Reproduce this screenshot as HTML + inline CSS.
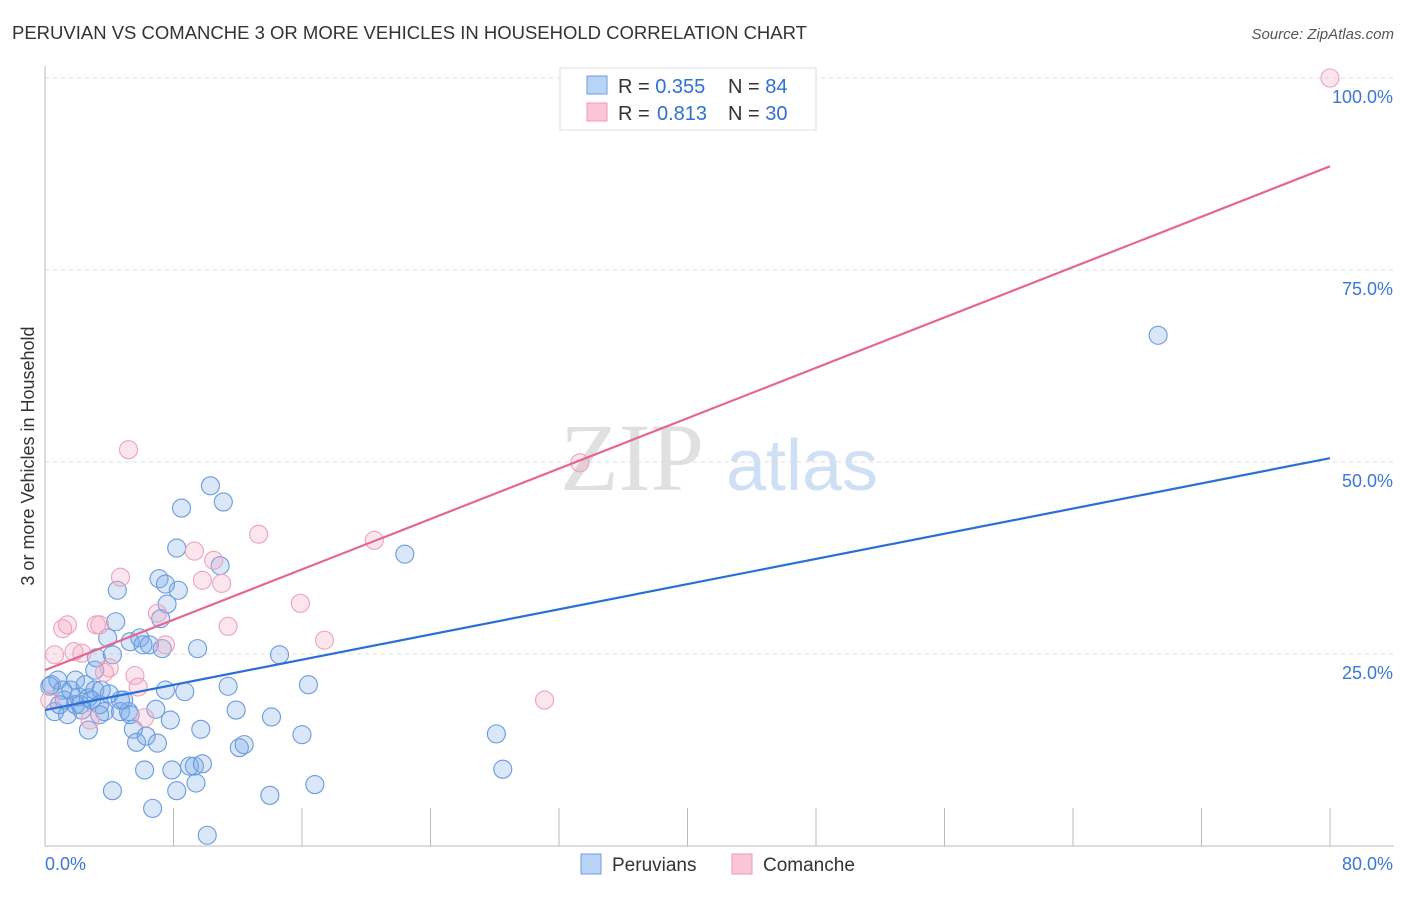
<!DOCTYPE html>
<html><head><meta charset="utf-8"><style>
body{margin:0;background:#fff;font-family:"Liberation Sans",sans-serif}
</style></head><body>
<svg id="chart" width="1406" height="892" xmlns="http://www.w3.org/2000/svg" font-family="Liberation Sans, sans-serif">
<text x="12" y="39" font-size="18.5" fill="#333">PERUVIAN VS COMANCHE 3 OR MORE VEHICLES IN HOUSEHOLD CORRELATION CHART</text>
<text x="1394" y="39" font-size="15" fill="#555" text-anchor="end" font-style="italic">Source: ZipAtlas.com</text>
<g>
<text x="632" y="490" font-size="96" font-family="Liberation Serif, serif" fill="#e0e0e0" text-anchor="middle">ZIP</text>
<text x="802" y="490" font-size="72" fill="#d0e0f4" text-anchor="middle">atlas</text>
</g>
<g id="grid"></g>
<g id="axes"></g>
<g id="points"></g>
<g id="lines"></g>
<text transform="translate(34,456) rotate(-90)" font-size="18" fill="#333" text-anchor="middle">3 or more Vehicles in Household</text>
<g>
<rect x="560" y="68" width="256" height="62" fill="#fff" stroke="#ddd"/>
<rect x="587" y="76" width="20" height="18" fill="#b9d3f4" stroke="#6d9de0"/>
<rect x="587" y="103" width="20" height="18" fill="#fac6d6" stroke="#ec9ab5"/>
<text x="618" y="93" font-size="20" fill="#333">R = <tspan fill="#2f6fd6">0.355</tspan><tspan x="728">N = </tspan><tspan fill="#2f6fd6">84</tspan></text>
<text x="618" y="120" font-size="20" fill="#333">R = <tspan x="657" fill="#2f6fd6">0.813</tspan><tspan x="728">N = </tspan><tspan fill="#2f6fd6">30</tspan></text>
</g>
<g>
<rect x="581" y="854" width="20" height="20" fill="#b9d3f4" stroke="#6d9de0"/>
<text x="612" y="871" font-size="19" fill="#333">Peruvians</text>
<rect x="732" y="854" width="20" height="20" fill="#fac6d6" stroke="#ec9ab5"/>
<text x="763" y="871" font-size="19" fill="#333">Comanche</text>
</g>
</svg>
<script>
const xTicks=[0,8,16,24,32,40,48,56,64,72,80];
const yTicks=[25,50,75,100];
const yTickLabels=["25.0%","50.0%","75.0%","100.0%"];
const xEndLabels=["0.0%","80.0%"];
const blueX=[0.6,0.4,0.8,1.1,1.2,1.6,1.9,2.1,2.2,2.5,2.7,2.9,3.1,3.4,3.7,4.0,2.7,3.1,3.2,3.5,3.9,4.2,4.4,4.5,4.7,4.9,5.2,5.3,5.5,5.7,5.9,6.1,6.3,6.5,6.9,7.0,7.1,7.2,7.3,7.5,7.6,7.8,7.9,8.2,8.3,8.5,8.7,9.0,9.3,9.4,9.5,9.7,9.8,10.1,10.3,10.9,11.1,11.4,11.9,12.1,12.4,14.0,14.1,14.6,16.0,16.4,16.8,22.4,28.1,28.5,69.3,4.2,6.7,6.2,8.2,7.5,1.4,0.9,1.9,2.3,3.4,5.3,0.3,4.7];
const blueY=[17.5,21.0,21.6,20.3,19.0,20.3,21.6,19.4,18.4,21.0,19.3,19.0,20.3,18.4,17.5,19.8,15.1,22.9,24.5,20.3,27.1,24.9,29.2,33.3,17.5,19.0,17.5,26.6,15.2,13.5,27.1,26.2,14.3,26.2,17.8,13.4,34.8,29.6,25.7,20.3,31.5,16.4,9.9,38.8,33.3,44.0,20.1,10.4,10.4,8.2,25.7,15.2,10.7,1.4,46.9,36.5,44.8,20.8,17.7,12.8,13.2,6.6,16.8,24.9,14.5,21.0,8.0,38.0,14.6,10.0,66.5,7.2,4.9,9.9,7.2,34.1,17.1,18.4,18.4,17.7,17.1,17.1,20.8,19.0];
const pinkX=[80.0,5.2,33.3,13.3,20.5,9.3,10.5,4.7,9.8,11.0,7.0,15.9,1.4,1.1,3.2,3.4,11.4,17.4,7.5,0.6,1.8,2.3,3.7,5.6,5.8,31.1,2.8,6.2,0.3,4.0];
const pinkY=[100,51.6,49.9,40.6,39.8,38.4,37.2,35.0,34.6,34.2,30.3,31.6,28.8,28.3,28.8,28.8,28.6,26.8,26.2,24.9,25.3,25.1,22.6,22.2,20.7,19.0,16.4,16.7,19.0,23.2];
const blueTrend=[17.7,50.5];
const pinkTrend=[22.9,88.5];
const NS="http://www.w3.org/2000/svg";
const X0=45,X1=1330,Y0=846,Y100=78;
function sx(v){return X0+(v-0)/80*(X1-X0);}
function sy(v){return Y0-(v/100)*(Y0-Y100);}
function mk(tag,attrs,parent){const e=document.createElementNS(NS,tag);for(const k in attrs)e.setAttribute(k,attrs[k]);document.getElementById(parent).appendChild(e);return e;}
yTicks.forEach((t,i)=>{
 const g=mk('line',{x1:X0,x2:1394,y1:sy(t),y2:sy(t),stroke:'#ddd','stroke-dasharray':'4,4'},'grid');
 
 
 const l=mk('text',{x:1393,y:sy(t)+25,'font-size':18,fill:'#3a78d6','text-anchor':'end'},'axes');
 l.textContent=yTickLabels[i];
 
 
});
const ax=mk('line',{x1:X0,x2:X0,y1:66,y2:846,stroke:'#bbb'},'axes');


const bx=mk('line',{x1:X0,x2:1394,y1:846,y2:846,stroke:'#bbb'},'axes');


xTicks.forEach(t=>{
 if(t===0)return;
 const k=mk('line',{x1:sx(t),x2:sx(t),y1:808,y2:846,stroke:'#bbb'},'axes');
 
 
});
const xl0=mk('text',{x:45,y:870,'font-size':18,fill:'#3a78d6'},'axes');xl0.textContent=xEndLabels[0];


const xl1=mk('text',{x:1393,y:870,'font-size':18,fill:'#3a78d6','text-anchor':'end'},'axes');xl1.textContent=xEndLabels[1];


blueX.forEach((v,i)=>{
 const c=mk('circle',{cx:sx(v),cy:sy(blueY[i]),r:9,fill:'rgba(120,168,232,0.28)',stroke:'#6a9ade','stroke-width':1.1},'points');
 
 
});
pinkX.forEach((v,i)=>{
 const c=mk('circle',{cx:sx(v),cy:sy(pinkY[i]),r:9,fill:'rgba(245,165,195,0.28)',stroke:'#eca2ba','stroke-width':1.1},'points');
 
 
});
const bl=mk('line',{x1:sx(0),y1:sy(blueTrend[0]),x2:sx(80),y2:sy(blueTrend[1]),stroke:'#2a6fd6','stroke-width':2.2},'lines');


const pl=mk('line',{x1:sx(0),y1:sy(pinkTrend[0]),x2:sx(80),y2:sy(pinkTrend[1]),stroke:'#e5668f','stroke-width':2.2},'lines');


</script>
</body></html>
